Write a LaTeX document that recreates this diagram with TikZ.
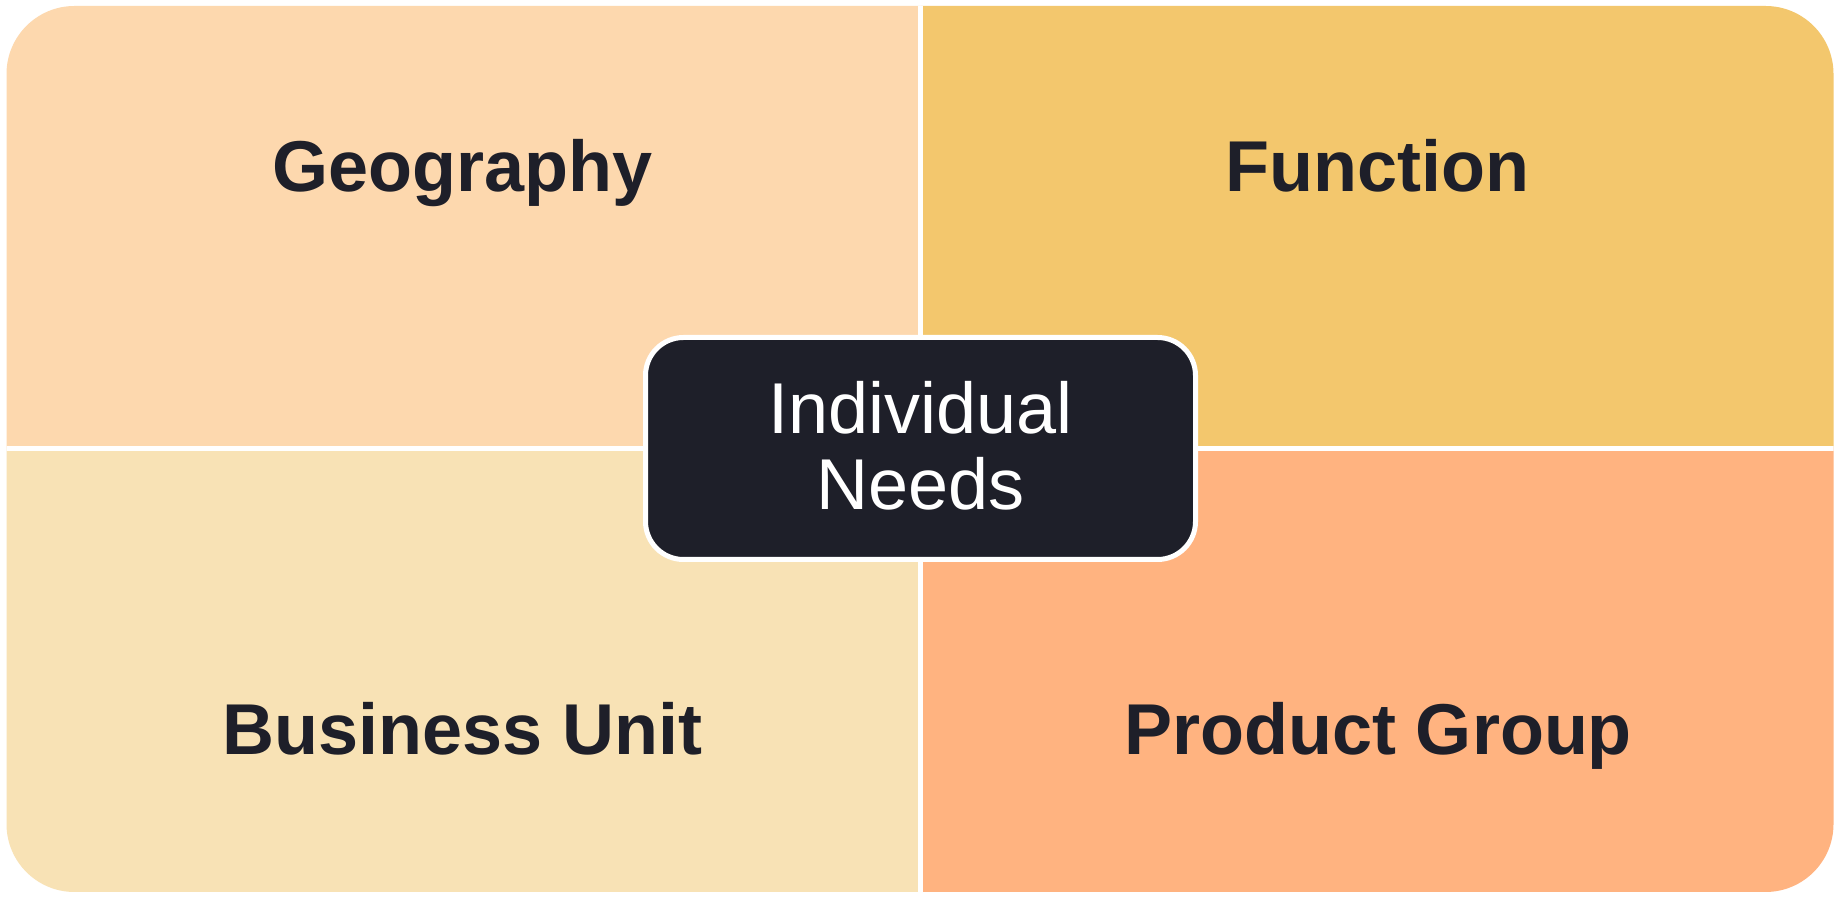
\documentclass[tikz,border=0pt]{standalone}
\usepackage{fontspec}
\setmainfont{Liberation Sans}
\definecolor{geo}{HTML}{FDD8AE}
\definecolor{fun}{HTML}{F3C76D}
\definecolor{bus}{HTML}{F8E2B5}
\definecolor{prod}{HTML}{FFB380}
\definecolor{ink}{HTML}{1E1F29}
\tikzset{
  quadlabel/.style={anchor=base, inner sep=0pt, text=ink, font=\fontsize{72}{86}\selectfont\bfseries},
  needsbox/.style={draw=white, line width=5pt, fill=ink, rounded corners=38pt, minimum width=550pt, minimum height=222pt, inner sep=0pt},
  needstext/.style={align=center, inner sep=0pt, text=white, font=\fontsize{72}{76}\selectfont},
  divider/.style={draw=white, line width=5pt}
}
\begin{document}
\begin{tikzpicture}[x=1pt,y=1pt]
\useasboundingbox (0,0) rectangle (1842,902);
\fill[white] (0,0) rectangle (1842,902);
\begin{scope}
  \clip[rounded corners=68pt] (6.5,10) rectangle (1833.5,896);
  \fill[geo]  (0,453.5) rectangle (920.5,902);
  \fill[fun]  (920.5,453.5) rectangle (1842,902);
  \fill[bus]  (0,0) rectangle (920.5,453.5);
  \fill[prod] (920.5,0) rectangle (1842,453.5);
  \draw[divider] (920.5,0) -- (920.5,902);
  \draw[divider] (0,453.5) -- (1842,453.5);
\end{scope}
\node[quadlabel] (geography) at (462.5,710) {Geography};
\node[quadlabel] (function) at (1377.5,710) {Function};
\node[quadlabel] (business) at (462.5,147) {Business Unit};
\node[quadlabel] (product) at (1378,147) {Product Group};
\node[needsbox] (core) at (920.5,453.5) {};
\node[needstext] (coretext) at ([yshift=3pt]core.center) {Individual\\Needs};
\end{tikzpicture}
\end{document}
